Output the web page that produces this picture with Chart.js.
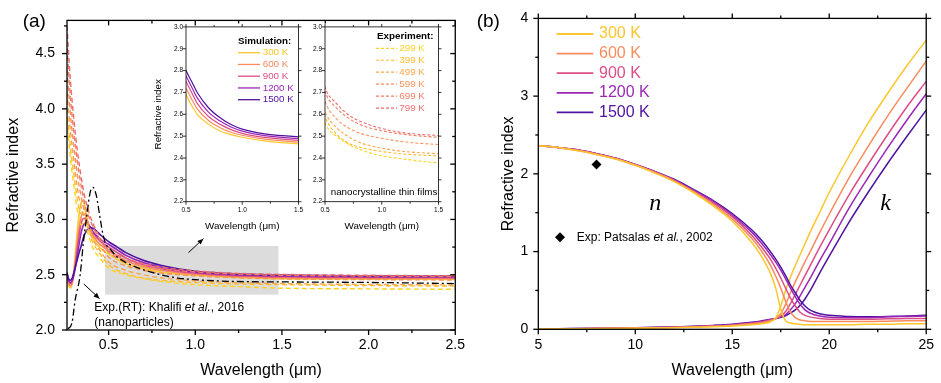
<!DOCTYPE html>
<html>
<head>
<meta charset="utf-8">
<script src="https://cdn.jsdelivr.net/npm/chart.js@4.4.0/dist/chart.umd.min.js"></script>
<style>
  html, body { margin: 0; padding: 0; background: #fff; }
  #fig { position: relative; width: 941px; height: 383px; overflow: hidden; background: #fff; }
  #fig canvas { position: absolute; }
</style>
</head>
<body>
<div id="fig">
  <canvas id="panelA" width="472" height="383" style="left:0px;top:0px"></canvas>
  <canvas id="insetSim" width="163" height="220" style="left:145px;top:20px"></canvas>
  <canvas id="insetExp" width="138" height="220" style="left:310px;top:20px"></canvas>
  <canvas id="panelB" width="471" height="383" style="left:470px;top:0px"></canvas>
</div>
<script>
const FONT = "'Liberation Sans', Arial, Helvetica, sans-serif";
const SERIF = "'Liberation Serif', 'Times New Roman', serif";

// ---- panel (a): simulated refractive index vs wavelength (um)
const simLabels = ['300 K', '600 K', '900 K', '1200 K', '1500 K'];
const simColors = ['#FCC62C', '#F98B5C', '#DC4E86', '#9B27B6', '#4E139F'];
const lamSim = [0.26, 0.27, 0.28, 0.29, 0.30, 0.31, 0.32, 0.33, 0.34, 0.35, 0.36, 0.37, 0.38, 0.39, 0.40, 0.41, 0.42, 0.44, 0.46, 0.50, 0.55, 0.60, 0.70, 0.80, 0.90, 1.0, 1.2, 1.5, 2.0, 2.5];
const sim300 = [2.48, 2.40, 2.38, 2.42, 2.55, 2.72, 2.90, 3.05, 3.14, 3.17, 3.14, 3.06, 2.98, 2.92, 2.87, 2.83, 2.80, 2.76, 2.73, 2.69, 2.64, 2.60, 2.555, 2.525, 2.507, 2.495, 2.478, 2.465, 2.46, 2.458];
const sim600 = [2.49, 2.42, 2.40, 2.43, 2.52, 2.65, 2.80, 2.93, 3.01, 3.05, 3.05, 3.02, 2.97, 2.93, 2.89, 2.86, 2.83, 2.79, 2.76, 2.72, 2.67, 2.625, 2.572, 2.54, 2.518, 2.504, 2.486, 2.473, 2.468, 2.466];
const sim900 = [2.50, 2.44, 2.42, 2.44, 2.51, 2.61, 2.74, 2.86, 2.95, 3.00, 3.01, 3.00, 2.97, 2.94, 2.91, 2.88, 2.86, 2.82, 2.79, 2.75, 2.70, 2.65, 2.59, 2.555, 2.53, 2.513, 2.494, 2.481, 2.476, 2.474];
const sim1200 = [2.51, 2.45, 2.43, 2.45, 2.50, 2.58, 2.68, 2.78, 2.87, 2.93, 2.96, 2.97, 2.96, 2.94, 2.92, 2.89, 2.87, 2.84, 2.81, 2.775, 2.725, 2.675, 2.61, 2.57, 2.542, 2.523, 2.502, 2.489, 2.483, 2.48];
const sim1500 = [2.52, 2.46, 2.45, 2.47, 2.52, 2.58, 2.64, 2.70, 2.75, 2.81, 2.86, 2.89, 2.91, 2.92, 2.925, 2.92, 2.91, 2.88, 2.85, 2.80, 2.75, 2.70, 2.63, 2.585, 2.553, 2.532, 2.51, 2.497, 2.49, 2.487];
const simSeries = [sim300, sim600, sim900, sim1200, sim1500];

// ---- panel (a): experiment, nanocrystalline thin films
const expLabels = ['299 K', '399 K', '499 K', '599 K', '699 K', '799 K'];
const expColors = ['#FFD220', '#FDBD2E', '#FAA64A', '#F7925A', '#F07C62', '#EA6A6E'];
const lamExp = [0.26, 0.28, 0.30, 0.32, 0.34, 0.36, 0.38, 0.40, 0.42, 0.45, 0.5, 0.6, 0.7, 0.8, 1.0, 1.2, 1.5, 2.0, 2.5];
const exp299 = [3.90, 3.55, 3.30, 3.08, 2.95, 2.98, 2.88, 2.78, 2.71, 2.65, 2.56, 2.50, 2.465, 2.44, 2.41, 2.395, 2.378, 2.372, 2.368];
const exp399 = [4.00, 3.65, 3.40, 3.18, 3.05, 3.10, 2.96, 2.83, 2.76, 2.69, 2.59, 2.51, 2.47, 2.45, 2.43, 2.418, 2.41, 2.402, 2.397];
const exp499 = [4.15, 3.80, 3.52, 3.28, 3.12, 3.02, 2.92, 2.85, 2.79, 2.72, 2.615, 2.54, 2.50, 2.472, 2.445, 2.43, 2.42, 2.412, 2.407];
const exp599 = [4.35, 3.95, 3.65, 3.40, 3.22, 3.08, 2.98, 2.90, 2.84, 2.77, 2.66, 2.58, 2.54, 2.515, 2.49, 2.474, 2.462, 2.456, 2.452];
const exp699 = [4.55, 4.10, 3.78, 3.52, 3.32, 3.16, 3.05, 2.97, 2.90, 2.82, 2.705, 2.63, 2.585, 2.555, 2.525, 2.508, 2.495, 2.488, 2.483];
const exp799 = [4.75, 4.25, 3.90, 3.62, 3.40, 3.22, 3.10, 3.00, 2.93, 2.84, 2.724, 2.65, 2.60, 2.57, 2.535, 2.515, 2.503, 2.495, 2.49];
const expSeries = [exp299, exp399, exp499, exp599, exp699, exp799];

// ---- panel (a): Khalifi et al. 2016 (nanoparticles, RT)
const lamKhalifi = [0.265, 0.288, 0.307, 0.336, 0.355, 0.374, 0.393, 0.41, 0.43, 0.449, 0.468, 0.487, 0.51, 0.55, 0.6, 0.7, 0.8, 0.9, 1.0, 1.2, 1.5, 2.0, 2.5];
const nKhalifi = [2.01, 2.06, 2.27, 2.50, 2.80, 3.03, 3.24, 3.29, 3.21, 3.03, 2.86, 2.77, 2.73, 2.66, 2.61, 2.545, 2.50, 2.47, 2.455, 2.44, 2.435, 2.43, 2.42];

// ---- panel (b): n and k in the infrared
const lamB = [5, 6, 7, 8, 9, 10, 11, 12, 13, 14, 15, 16, 16.5, 17, 17.25, 17.5, 17.75, 18, 18.25, 18.5, 18.75, 19, 19.5, 20, 21, 22, 23, 24, 25];
const n300 = [2.36, 2.34, 2.30, 2.25, 2.19, 2.11, 2.01, 1.90, 1.76, 1.59, 1.39, 1.12, 0.94, 0.70, 0.52, 0.26, 0.11, 0.08, 0.07, 0.065, 0.06, 0.06, 0.06, 0.06, 0.06, 0.065, 0.065, 0.07, 0.07];
const n600 = [2.36, 2.34, 2.30, 2.25, 2.19, 2.11, 2.02, 1.91, 1.77, 1.61, 1.42, 1.17, 1.01, 0.81, 0.68, 0.53, 0.36, 0.22, 0.15, 0.12, 0.11, 0.10, 0.10, 0.10, 0.10, 0.10, 0.105, 0.11, 0.11];
const n900 = [2.36, 2.34, 2.31, 2.26, 2.20, 2.12, 2.02, 1.92, 1.78, 1.63, 1.45, 1.21, 1.06, 0.89, 0.78, 0.66, 0.53, 0.40, 0.30, 0.22, 0.18, 0.16, 0.14, 0.13, 0.13, 0.13, 0.135, 0.14, 0.14];
const n1200 = [2.36, 2.34, 2.31, 2.26, 2.20, 2.12, 2.03, 1.92, 1.79, 1.65, 1.47, 1.25, 1.11, 0.95, 0.86, 0.76, 0.65, 0.53, 0.42, 0.32, 0.25, 0.21, 0.17, 0.155, 0.15, 0.15, 0.16, 0.165, 0.17];
const n1500 = [2.36, 2.34, 2.31, 2.26, 2.20, 2.12, 2.03, 1.93, 1.80, 1.66, 1.49, 1.28, 1.15, 0.99, 0.90, 0.80, 0.69, 0.57, 0.47, 0.37, 0.30, 0.25, 0.20, 0.18, 0.165, 0.16, 0.165, 0.17, 0.18];
const k300 = [0.003, 0.005, 0.007, 0.009, 0.011, 0.014, 0.017, 0.021, 0.026, 0.033, 0.043, 0.06, 0.072, 0.10, 0.15, 0.30, 0.50, 0.67, 0.82, 0.96, 1.10, 1.24, 1.50, 1.76, 2.22, 2.65, 3.03, 3.39, 3.72];
const k600 = [0.004, 0.006, 0.008, 0.01, 0.013, 0.016, 0.02, 0.024, 0.03, 0.038, 0.05, 0.07, 0.085, 0.11, 0.14, 0.20, 0.32, 0.47, 0.61, 0.74, 0.87, 0.99, 1.24, 1.48, 1.94, 2.35, 2.74, 3.10, 3.45];
const k900 = [0.004, 0.006, 0.008, 0.011, 0.014, 0.017, 0.021, 0.026, 0.033, 0.042, 0.055, 0.077, 0.093, 0.12, 0.14, 0.17, 0.23, 0.33, 0.45, 0.57, 0.69, 0.81, 1.05, 1.28, 1.72, 2.12, 2.50, 2.86, 3.19];
const k1200 = [0.005, 0.007, 0.009, 0.012, 0.015, 0.019, 0.023, 0.029, 0.036, 0.046, 0.06, 0.084, 0.10, 0.125, 0.14, 0.16, 0.19, 0.25, 0.33, 0.43, 0.54, 0.65, 0.88, 1.10, 1.55, 1.95, 2.33, 2.69, 3.03];
const k1500 = [0.005, 0.007, 0.01, 0.013, 0.016, 0.02, 0.025, 0.031, 0.039, 0.05, 0.065, 0.09, 0.107, 0.13, 0.14, 0.155, 0.175, 0.21, 0.25, 0.31, 0.39, 0.49, 0.72, 0.94, 1.37, 1.76, 2.13, 2.48, 2.82];
const nSeries = [n300, n600, n900, n1200, n1500];
const kSeries = [k300, k600, k900, k1200, k1500];
const lamPatsalas = [8.0];
const nPatsalas = [2.12];

// tick labels
const ticksAx = [0.5, 1.0, 1.5, 2.0, 2.5];
const ticksAy = [2.0, 2.5, 3.0, 3.5, 4.0, 4.5];
const ticksInsetX = [0.5, 1.0, 1.5];
const ticksInsetY = [2.2, 2.3, 2.4, 2.5, 2.6, 2.7, 2.8, 2.9, 3.0];
const ticksBx = [5, 10, 15, 20, 25];
const ticksBy = [0, 1, 2, 3, 4];

const pts = (xs, ys) => xs.map((x, i) => ({x: x, y: ys[i]}));

// frame, ticks, shaded box, arrows, texts and keys
const decor = {
  id: 'decor',
  beforeDatasetsDraw(chart, args, o) {
    if (!o.box) return;
    const {ctx, scales: {x, y}} = chart;
    const b = o.box;
    const x0 = x.getPixelForValue(b.x[0]), x1 = x.getPixelForValue(b.x[1]);
    const y0 = y.getPixelForValue(b.y[0]), y1 = y.getPixelForValue(b.y[1]);
    ctx.save();
    ctx.fillStyle = b.color;
    ctx.fillRect(x0, y1, x1 - x0, y0 - y1);
    ctx.restore();
  },
  afterDraw(chart, args, o) {
    const {ctx, chartArea: a, scales: {x, y}} = chart;
    ctx.save();
    const line = (x0, y0, x1, y1) => { ctx.beginPath(); ctx.moveTo(x0, y0); ctx.lineTo(x1, y1); ctx.stroke(); };

    if (o.frame) {
      const f = o.frame;
      ctx.strokeStyle = '#000';
      ctx.lineWidth = f.lw;
      ctx.strokeRect(a.left, a.top, a.right - a.left, a.bottom - a.top);
      const minors = (s, step) => {
        const out = [];
        if (!step) return out;
        const majors = s.ticks.map(t => t.value);
        for (let v = Math.ceil(s.min / step - 1e-9) * step; v <= s.max + 1e-9; v += step) {
          if (!majors.some(m => Math.abs(m - v) < 1e-9)) out.push(v);
        }
        return out;
      };
      const tickX = (v, len) => {
        const p = x.getPixelForValue(v);
        line(p, a.bottom, p, a.bottom + len);
        line(p, a.top, p, a.top + (f.inTop ? len : -len));
      };
      const tickY = (v, len) => {
        const p = y.getPixelForValue(v);
        line(a.left, p, a.left - len, p);
        line(a.right, p, a.right + (f.inRight ? -len : len), p);
      };
      x.ticks.forEach(t => tickX(t.value, f.major));
      y.ticks.forEach(t => tickY(t.value, f.major));
      minors(x, f.minorX).forEach(v => tickX(v, f.minor));
      minors(y, f.minorY).forEach(v => tickY(v, f.minor));
    }

    (o.arrows || []).forEach(ar => {
      const x0 = x.getPixelForValue(ar.from[0]), y0 = y.getPixelForValue(ar.from[1]);
      const x1 = x.getPixelForValue(ar.to[0]), y1 = y.getPixelForValue(ar.to[1]);
      ctx.strokeStyle = '#000';
      ctx.fillStyle = '#000';
      ctx.lineWidth = 1;
      line(x0, y0, x1, y1);
      const ang = Math.atan2(y1 - y0, x1 - x0), h = 6.5;
      ctx.beginPath();
      ctx.moveTo(x1, y1);
      ctx.lineTo(x1 - h * Math.cos(ang - 0.4), y1 - h * Math.sin(ang - 0.4));
      ctx.lineTo(x1 - h * Math.cos(ang + 0.4), y1 - h * Math.sin(ang + 0.4));
      ctx.closePath();
      ctx.fill();
    });

    (o.texts || []).forEach(t => {
      const runs = t.runs || [[t.text, t.style || '']];
      const fam = t.family || FONT;
      const px = t.x != null ? x.getPixelForValue(t.x) : t.px;
      const py = t.y != null ? y.getPixelForValue(t.y) : t.py;
      ctx.textBaseline = 'middle';
      ctx.textAlign = 'left';
      ctx.fillStyle = t.color || '#000';
      let w = 0;
      runs.forEach(([s, st]) => { ctx.font = `${st}${t.size}px ${fam}`; w += ctx.measureText(s).width; });
      let xx = t.align === 'center' ? px - w / 2 : px;
      runs.forEach(([s, st]) => {
        ctx.font = `${st}${t.size}px ${fam}`;
        ctx.fillText(s, xx, py);
        xx += ctx.measureText(s).width;
      });
    });

    if (o.key) {
      const k = o.key;
      ctx.textBaseline = 'middle';
      ctx.textAlign = 'left';
      if (k.title) {
        ctx.font = `bold ${k.size}px ${FONT}`;
        ctx.fillStyle = '#000';
        ctx.fillText(k.title, k.tx, k.ty);
      }
      let row = 0;
      chart.data.datasets.forEach(ds => {
        if (!ds.key) return;
        const yy = k.y + row * k.rowH;
        ctx.strokeStyle = ds.borderColor;
        ctx.lineWidth = k.lw;
        ctx.setLineDash(ds.borderDash || []);
        line(k.x, yy, k.x + k.len, yy);
        ctx.setLineDash([]);
        ctx.font = `${k.size}px ${FONT}`;
        ctx.fillStyle = ds.borderColor;
        ctx.fillText(ds.label, k.x + k.len + k.gap, yy);
        row++;
      });
    }

    if (o.marker) {
      const m = o.marker;
      ctx.fillStyle = '#000';
      ctx.beginPath();
      ctx.moveTo(m.px, m.py - m.r);
      ctx.lineTo(m.px + m.r, m.py);
      ctx.lineTo(m.px, m.py + m.r);
      ctx.lineTo(m.px - m.r, m.py);
      ctx.closePath();
      ctx.fill();
    }
    ctx.restore();
  }
};
Chart.register(decor);

function axis(min, max, ticks, digits, o) {
  return {
    type: 'linear',
    min: min,
    max: max,
    afterBuildTicks: s => { s.ticks = ticks.map(v => ({value: v})); },
    afterFit: s => {
      if (o.w != null) s.width = o.w;
      if (o.h != null) s.height = o.h;
    },
    grid: {display: false, drawTicks: false},
    border: {display: false},
    ticks: {
      color: '#000',
      font: {family: FONT, size: o.fs},
      padding: o.pad,
      maxRotation: 0,
      autoSkip: false,
      callback: v => Number(v).toFixed(digits)
    },
    title: o.title ? {
      display: true,
      text: o.title,
      color: '#000',
      font: {family: FONT, size: o.tfs},
      padding: o.tpad
    } : {display: false}
  };
}

function baseOptions(padding, scales, decorOpts) {
  return {
    responsive: false,
    animation: false,
    events: [],
    layout: {padding: padding},
    elements: {point: {radius: 0}, line: {cubicInterpolationMode: 'monotone'}},
    scales: scales,
    plugins: {legend: {display: false}, tooltip: {enabled: false}, decor: decorOpts}
  };
}

function simSets(width) {
  return simSeries.map((ys, i) => ({
    label: simLabels[i], key: true, data: pts(lamSim, ys),
    borderColor: simColors[i], borderWidth: width, fill: false
  }));
}
function expSets(width, dash) {
  return expSeries.map((ys, i) => ({
    label: expLabels[i], key: true, data: pts(lamExp, ys),
    borderColor: expColors[i], borderWidth: width, borderDash: dash, fill: false
  }));
}

// ---- panel (a)
new Chart(document.getElementById('panelA'), {
  type: 'line',
  data: {
    datasets: [
      {label: 'Khalifi et al., 2016', data: pts(lamKhalifi, nKhalifi), borderColor: '#000', borderWidth: 1.3, borderDash: [7, 3, 2, 3], fill: false},
      ...expSets(1.4, [5, 3]).reverse(),
      ...simSets(1.6).reverse()
    ]
  },
  options: baseOptions({left: 0, top: 14, right: 12, bottom: 0}, {
    x: axis(0.26, 2.5, ticksAx, 1, {h: 53, fs: 14, pad: 7, title: 'Wavelength (\u03bcm)', tfs: 16, tpad: {top: 0, bottom: 2.4}}),
    y: axis(2.0, 4.8, ticksAy, 1, {w: 67, fs: 14, pad: 12, title: 'Refractive index', tfs: 16, tpad: {top: 4, bottom: 0}})
  }, {
    frame: {lw: 1.3, major: 5, minor: 3, minorX: 0.25, minorY: 0.25, inTop: true, inRight: true},
    box: {x: [0.48, 1.48], y: [2.32, 2.76], color: '#DCDCDC'},
    arrows: [{from: [0.357, 2.416], to: [0.448, 2.283]}, {from: [0.961, 2.70], to: [1.047, 2.826]}],
    texts: [
      {px: 22.7, py: 21.7, size: 19, text: '(a)'},
      {px: 94.3, py: 308, size: 12, runs: [['Exp.(RT): Khalifi ', ''], ['et al.', 'italic '], [', 2016', '']]},
      {px: 94.3, py: 323, size: 12, text: '(nanoparticles)'}
    ]
  })
});

// ---- inset: simulation
new Chart(document.getElementById('insetSim'), {
  type: 'line',
  data: {datasets: simSets(1.2)},
  options: baseOptions({left: 0, top: 5, right: 5, bottom: 0}, {
    x: axis(0.5, 1.5, ticksInsetX, 1, {h: 38.3, fs: 6.5, pad: 5, title: 'Wavelength (\u03bcm)', tfs: 9.8, tpad: {top: 0, bottom: 7.4}}),
    y: axis(2.2, 3.0, ticksInsetY, 1, {w: 41, fs: 6.5, pad: 3, title: 'Refractive index', tfs: 9.8, tpad: {top: 7.1, bottom: 0}})
  }, {
    frame: {lw: 0.8, major: 3, minor: 2, minorX: 0.25, minorY: 0},
    key: {title: 'Simulation:', tx: 93, ty: 21.7, x: 93, y: 32.7, rowH: 11.75, len: 22, gap: 2.7, lw: 1.3, size: 9.8}
  })
});

// ---- inset: experiment
new Chart(document.getElementById('insetExp'), {
  type: 'line',
  data: {datasets: expSets(1.1, [3, 2])},
  options: baseOptions({left: 0, top: 5, right: 5.3, bottom: 0}, {
    x: axis(0.5, 1.5, ticksInsetX, 1, {h: 38.3, fs: 6.5, pad: 5, title: 'Wavelength (\u03bcm)', tfs: 9.8, tpad: {top: 0, bottom: 7.4}}),
    y: axis(2.2, 3.0, ticksInsetY, 1, {w: 15, fs: 6.5, pad: 3})
  }, {
    frame: {lw: 0.8, major: 3, minor: 2, minorX: 0.25, minorY: 0},
    key: {title: 'Experiment:', tx: 67, ty: 16, x: 66, y: 28.3, rowH: 11.95, len: 21, gap: 2.3, lw: 1.2, size: 9.8},
    texts: [{px: 20.7, py: 172.7, size: 9.8, text: 'nanocrystalline thin films'}]
  })
});

// ---- panel (b)
const bSets = [];
nSeries.forEach((ys, i) => bSets.push({
  label: simLabels[i], key: true, data: pts(lamB, ys), borderColor: simColors[i], borderWidth: 1.5, fill: false
}));
kSeries.forEach((ys, i) => bSets.push({
  label: simLabels[i] + ' k', data: pts(lamB, ys), borderColor: simColors[i], borderWidth: 1.5, fill: false
}));
bSets.unshift({
  label: 'Exp: Patsalas et al., 2002', data: pts(lamPatsalas, nPatsalas), showLine: false,
  pointStyle: 'rectRot', pointRadius: 5, backgroundColor: '#000', borderColor: '#000', borderWidth: 0
});

new Chart(document.getElementById('panelB'), {
  type: 'line',
  data: {datasets: bSets},
  options: baseOptions({left: 0, top: 12.3, right: 10, bottom: 0}, {
    x: axis(5, 25, ticksBx, 0, {h: 53.7, fs: 14, pad: 7, title: 'Wavelength (\u03bcm)', tfs: 16, tpad: {top: 0, bottom: 2.4}}),
    y: axis(0, 4, ticksBy, 0, {w: 68.3, fs: 14, pad: 10, title: 'Refractive index', tfs: 16, tpad: {top: 28.7, bottom: 0}})
  }, {
    frame: {lw: 1.3, major: 5, minor: 3, minorX: 2.5, minorY: 0.5},
    key: {x: 86.7, y: 34, rowH: 19.6, len: 36.6, gap: 5.7, lw: 1.8, size: 16},
    marker: {px: 90, py: 237.3, r: 5},
    texts: [
      {px: 6.7, py: 21.7, size: 19, text: '(b)'},
      {px: 106.7, py: 237.3, size: 12, runs: [['Exp: Patsalas ', ''], ['et al.', 'italic '], [', 2002', '']]},
      {x: 11.03, y: 1.61, size: 24, family: SERIF, style: 'italic ', text: 'n', align: 'center'},
      {x: 22.9, y: 1.61, size: 24, family: SERIF, style: 'italic ', text: 'k', align: 'center'}
    ]
  })
});
</script>
</body>
</html>
